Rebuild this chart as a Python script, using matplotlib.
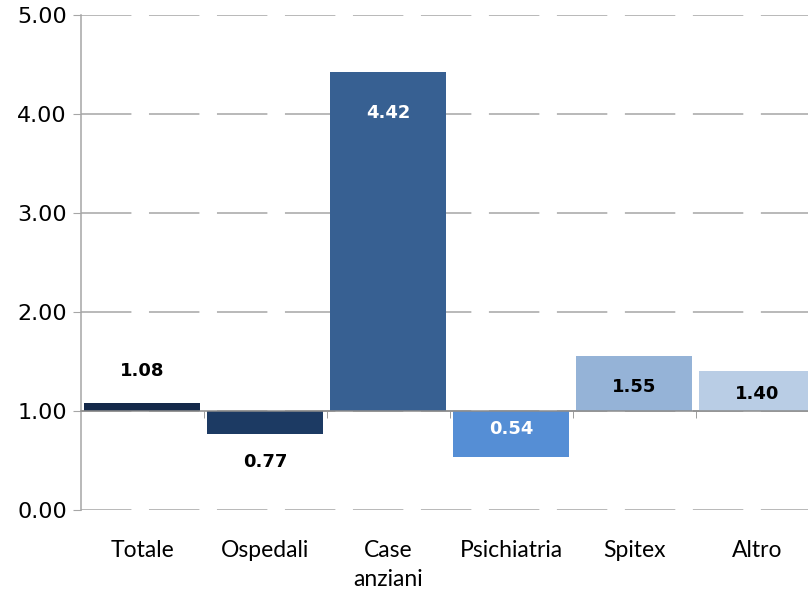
import matplotlib.pyplot as plt
from matplotlib.transforms import blended_transform_factory

# data
categories = ['Totale', 'Ospedali', 'Case\nanziani', 'Psichiatria', 'Spitex', 'Altro']
values = [1.08, 0.77, 4.42, 0.54, 1.55, 1.40]
value_labels = ['1.08', '0.77', '4.42', '0.54', '1.55', '1.40']
baseline = 1.0

# styling
colors = ['#14294a', '#1c3a63', '#376092', '#558ed5', '#95b3d7', '#b9cde5']
label_colors = ['black', 'black', 'white', 'white', 'black', 'black']
label_offsets = [23, -20, -29.5, 20, -22, -16.5]  # points from bar end
grid_color = '#a6a6a6'

fig = plt.figure(figsize=(8.08, 5.93), dpi=100)
ax = fig.add_axes([0.100, 0.140, 0.913, 0.835])

x = list(range(len(categories)))
heights = [v - baseline for v in values]
ax.bar(x, heights, bottom=baseline, width=0.94, color=colors, zorder=3)

ax.set_xlim(-0.5, len(categories) - 0.5)
ax.set_ylim(0, 5)
ax.set_yticks([0, 1, 2, 3, 4, 5])
ax.set_yticklabels([f'{t:.2f}' for t in [0, 1, 2, 3, 4, 5]], fontsize=16)
ax.tick_params(axis='y', length=6, color=grid_color, pad=4)

# dashed gridlines
ax.yaxis.grid(True, color=grid_color, linewidth=1.1, linestyle=(0, (33, 11.5)), zorder=0)
ax.set_axisbelow(True)

for s in ['top', 'right']:
    ax.spines[s].set_visible(False)
ax.spines['left'].set_color(grid_color)
ax.spines['left'].set_linewidth(1.1)

# horizontal axis crosses at the baseline
ax.spines['bottom'].set_position(('data', baseline))
ax.spines['bottom'].set_color('#8c8c8c')
ax.spines['bottom'].set_linewidth(1.1)
ax.spines['bottom'].set_zorder(4)
ax.set_xticks(x)
ax.set_xticklabels([])
ax.tick_params(axis='x', which='major', length=0)
ax.set_xticks([i + 0.5 for i in x], minor=True)
ax.tick_params(axis='x', which='minor', length=5, color='#8c8c8c', direction='out')

# category labels below the plot
trans = blended_transform_factory(ax.transData, ax.transAxes)
for xi, cat in zip(x, categories):
    ax.annotate(cat, xy=(xi, 0), xycoords=trans, xytext=(0, -21.5), textcoords='offset points',
                ha='center', va='top', fontsize=16.5, family='Lato', linespacing=1.5)

# value labels
for xi, v, lab, c, off in zip(x, values, value_labels, label_colors, label_offsets):
    ax.annotate(lab, xy=(xi, v), xytext=(0, off), textcoords='offset points',
                ha='center', va='center', fontsize=13, fontweight='bold', color=c, zorder=5)

fig.savefig('out.png', dpi=100)
